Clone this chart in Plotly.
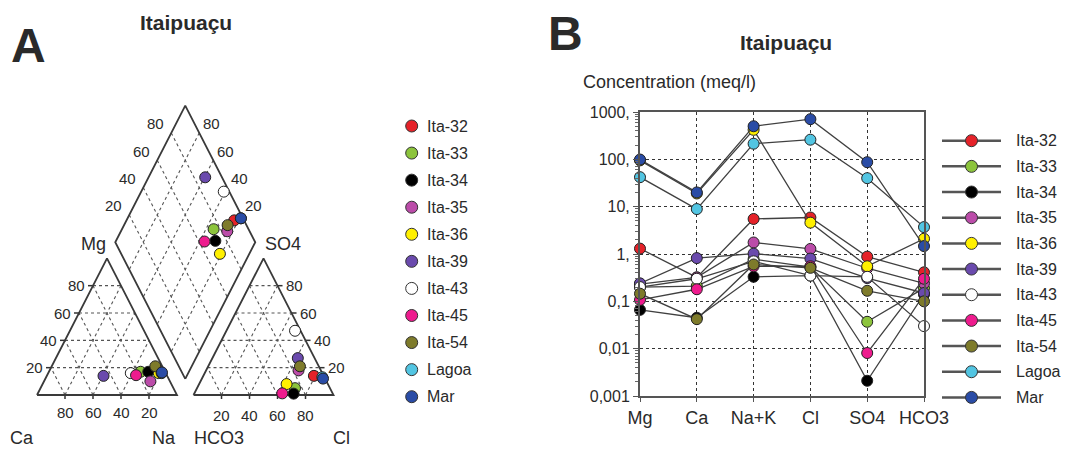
import math
import plotly.graph_objects as go

# ---------------- data ----------------
samples = ["Ita-32", "Ita-33", "Ita-34", "Ita-35", "Ita-36", "Ita-39",
           "Ita-43", "Ita-45", "Ita-54", "Lagoa", "Mar"]
colors = ["#e52229", "#8cc43c", "#000000", "#bb4ca9", "#fff000", "#6a4aad",
          "#ffffff", "#ee1b8e", "#7e7b2b", "#52c5e2", "#2a4ca6"]

# Schoeller diagram (meq/l)
ions = ["Mg", "Ca", "Na+K", "Cl", "SO4", "HCO3"]
mg_meq = [1.3, 0.2, 0.066, 0.23, 95, 0.24, 0.2, 0.107, 0.145, 42, 99]
ca_meq = [0.32, 0.21, 0.045, 0.32, 19, 0.82, 0.3, 0.18, 0.042, 8.9, 20]
nak_meq = [5.5, 0.78, 0.33, 1.75, 420, 1.02, 0.7, 0.55, 0.6, 214, 500]
cl_meq = [5.9, 0.53, 0.35, 1.28, 4.6, 0.80, 0.35, 0.55, 0.51, 260, 705]
so4_meq = [0.88, 0.037, 0.0021, 0.5, 0.55, 0.31, 0.33, 0.0081, 0.167, 40, 87]
hco3_meq = [0.41, 0.19, 0.14, 0.24, 2.1, 0.15, 0.03, 0.30, 0.10, 3.7, 1.47]

y_tickvals = [0.001, 0.01, 0.1, 1, 10, 100, 1000]
y_ticktext = ["0,001", "0,01", "0,1", "1,", "10,", "100,", "1000,"]

# Piper diagram (% of meq)
pip_ca = [5, 17.5, 12, 14, 5, 45.5, 25, 22, 5, 3, 2.5]
pip_mg = [18, 17, 17, 10, 16, 14, 16, 14.5, 21, 16, 16.5]
pip_cl = [79, 70, 71, 66, 62.5, 61, 49, 62.8, 65.5, 85.5, 86.5]
pip_so4 = [14, 5, 1, 18, 8, 27, 47, 1.2, 21, 13, 12]
pip_ticks = [20, 40, 60, 80]

title_txt = "Itaipuaçu"

# ---------------- geometry / styles ----------------
W, HP = 1070, 452
FONT = "Liberation Sans, Arial, sans-serif"
TXT = "#2a2a2a"
H = math.sqrt(3) / 2
G = 0.118
PX0, PY0, SX, SY = 37.0, 395.0, 140.0, 157.8


def cat_xy(ca, mg):
    ca, mg = ca / 100, mg / 100
    na = 1 - ca - mg
    return na + 0.5 * mg, H * mg


def an_xy(cl, so4):
    cl, so4 = cl / 100, so4 / 100
    return 1 + G + cl + 0.5 * so4, H * so4


def dia_xy(na, hc):
    return 1 + G / 2 + 0.5 * (na - hc), G * H + H * (2 - na - hc)


fig = go.Figure()
ann = []


def seglist(segs):
    xs, ys = [], []
    for (a, b) in segs:
        xs += [a[0], b[0], None]
        ys += [a[1], b[1], None]
    return xs, ys


# Piper grid
grid = []
ox = 1 + G
for t in pip_ticks:
    f = t / 100
    grid.append(((0.5 * f, H * f), (1 - 0.5 * f, H * f)))
    grid.append(((1 - f, 0), (0.5 * (1 - f), H * (1 - f))))
    grid.append(((f, 0), (f + 0.5 * (1 - f), H * (1 - f))))
    grid.append(((ox + 0.5 * f, H * f), (ox + 1 - 0.5 * f, H * f)))
    grid.append(((ox + f, 0), (ox + f + 0.5 * (1 - f), H * (1 - f))))
    grid.append(((ox + 1 - f, 0), (ox + 0.5 * (1 - f), H * (1 - f))))
    grid.append((dia_xy(f, 0), dia_xy(f, 1)))
    grid.append((dia_xy(0, f), dia_xy(1, f)))
gx, gy = seglist(grid)
fig.add_trace(go.Scatter(x=gx, y=gy, mode="lines", hoverinfo="skip",
                         line=dict(color="#555", width=1.1, dash="3px,3px"),
                         showlegend=False, xaxis="x", yaxis="y"))

# tick marks
tk = []
dy_t = 4 / SY
dx_t = 5 / SX
for t in pip_ticks:
    f = t / 100
    tk.append(((1 - f, 0), (1 - f, -dy_t)))
    tk.append(((0.5 * f, H * f), (0.5 * f - dx_t, H * f)))
    tk.append(((ox + f, 0), (ox + f, -dy_t)))
    tk.append(((ox + 1 - 0.5 * f, H * f), (ox + 1 - 0.5 * f + dx_t, H * f)))
tx, ty = seglist(tk)
fig.add_trace(go.Scatter(x=tx, y=ty, mode="lines", hoverinfo="skip",
                         line=dict(color="#333", width=1.5),
                         showlegend=False, xaxis="x", yaxis="y"))

# outlines
outl = [[(0, 0), (1, 0), (0.5, H), (0, 0)],
        [(ox, 0), (ox + 1, 0), (ox + 0.5, H), (ox, 0)],
        [dia_xy(1, 1), dia_xy(1, 0), dia_xy(0, 0), dia_xy(0, 1), dia_xy(1, 1)]]
ox_, oy_ = [], []
for poly in outl:
    ox_ += [p[0] for p in poly] + [None]
    oy_ += [p[1] for p in poly] + [None]
fig.add_trace(go.Scatter(x=ox_, y=oy_, mode="lines", hoverinfo="skip",
                         line=dict(color="#3a3a3a", width=1.8),
                         showlegend=False, xaxis="x", yaxis="y"))

# Piper points
for i, s in enumerate(samples):
    cx, cy = cat_xy(pip_ca[i], pip_mg[i])
    ax_, ay_ = an_xy(pip_cl[i], pip_so4[i])
    na = 1 - (pip_ca[i] + pip_mg[i]) / 100
    hc = 1 - (pip_cl[i] + pip_so4[i]) / 100
    dx_, dy_ = dia_xy(na, hc)
    fig.add_trace(go.Scatter(
        x=[cx, ax_, dx_], y=[cy, ay_, dy_], mode="markers", name=s,
        marker=dict(size=11, color=colors[i], line=dict(color="#222", width=1)),
        showlegend=False, cliponaxis=False, xaxis="x", yaxis="y"))


def add_lab(x, y, text, xs=0, ys=0, size=15, xanchor="center", xref="x", yref="y"):
    ann.append(dict(x=x, y=y, xref=xref, yref=yref, text=text, showarrow=False,
                    xanchor=xanchor, yanchor="middle", xshift=xs, yshift=ys,
                    font=dict(family=FONT, size=size, color=TXT)))


for t in pip_ticks:
    f = t / 100
    add_lab(0.5 * f, H * f, str(t), xs=-6, xanchor="right")
    add_lab(1 - f, 0, str(t), ys=-17)
    add_lab(ox + 1 - 0.5 * f, H * f, str(t), xs=6, xanchor="left")
    add_lab(ox + f, 0, str(t), ys=-20)
    x_, y_ = dia_xy(0, 1 - f)
    add_lab(x_, y_, str(t), xs=-16, ys=9)
    x_, y_ = dia_xy(1 - f, 0)
    add_lab(x_, y_, str(t), xs=12, ys=9)

add_lab(0.5, H, "Mg", xs=-14, ys=14, size=18)
add_lab(ox + 0.5, H, "SO4", xs=19, ys=14, size=18)
add_lab(0, 0, "Ca", xs=-15, ys=-43, size=18)
add_lab(1, 0, "Na", xs=-13, ys=-43, size=18)
add_lab(ox, 0, "HCO3", xs=25, ys=-43, size=18)
add_lab(ox + 1, 0, "Cl", xs=8, ys=-43, size=18)

# Schoeller series
for i, s in enumerate(samples):
    vals = [mg_meq[i], ca_meq[i], nak_meq[i], cl_meq[i], so4_meq[i], hco3_meq[i]]
    fig.add_trace(go.Scatter(
        x=ions, y=vals, mode="lines+markers", name=s,
        line=dict(color="#404040", width=1.3),
        marker=dict(size=11, color=colors[i], line=dict(color="#222", width=1)),
        showlegend=False, cliponaxis=False, xaxis="x2", yaxis="y2"))

# Legends (pixel overlay axis)
LA_X, LA_TX, LA_Y0, LA_DY = 411.7, 425, 126.0, 27.07
LB_X0, LB_X1, LB_XM, LB_TX, LB_Y0, LB_DY = 942, 1001, 971.5, 1014, 140.7, 25.67
for i, s in enumerate(samples):
    ya = LA_Y0 + i * LA_DY
    fig.add_trace(go.Scatter(x=[LA_X], y=[ya], mode="markers", showlegend=False,
                             marker=dict(size=12, color=colors[i], line=dict(color="#333", width=1)),
                             xaxis="x3", yaxis="y3", hoverinfo="skip"))
    add_lab(LA_TX, ya, s, xanchor="left", size=16, xref="x3", yref="y3")
    yb = LB_Y0 + i * LB_DY
    fig.add_trace(go.Scatter(x=[LB_X0, LB_X1], y=[yb, yb], mode="lines", showlegend=False,
                             line=dict(color="#555", width=2.5),
                             xaxis="x3", yaxis="y3", hoverinfo="skip"))
    fig.add_trace(go.Scatter(x=[LB_XM], y=[yb], mode="markers", showlegend=False,
                             marker=dict(size=12, color=colors[i], line=dict(color="#333", width=1)),
                             xaxis="x3", yaxis="y3", hoverinfo="skip"))
    add_lab(LB_TX, yb, s, xanchor="left", size=16, xref="x3", yref="y3")

add_lab(28, 45, "<b>A</b>", size=48, xref="x3", yref="y3")
add_lab(186, 22, "<b>" + title_txt + "</b>", size=21, xref="x3", yref="y3")
add_lab(565, 33, "<b>B</b>", size=48, xref="x3", yref="y3")
add_lab(786, 42, "<b>" + title_txt + "</b>", size=21, xref="x3", yref="y3")
add_lab(581, 82, "Concentration (meq/l)", size=18, xanchor="left", xref="x3", yref="y3")

minor_vals = [k * 10 ** e for e in range(-3, 3) for k in range(2, 10)]

fig.update_layout(
    width=W, height=HP, margin=dict(l=0, r=0, t=0, b=0, autoexpand=False),
    paper_bgcolor="white", plot_bgcolor="rgba(0,0,0,0)",
    showlegend=False, annotations=ann,
    font=dict(family=FONT, color=TXT),
    xaxis=dict(domain=[0, 1], range=[-PX0 / SX, (W - PX0) / SX], visible=False,
               fixedrange=True, automargin=False),
    yaxis=dict(domain=[0, 1], range=[(PY0 - HP) / SY, PY0 / SY], visible=False,
               fixedrange=True, automargin=False),
    xaxis2=dict(domain=[640 / W, 924 / W], anchor="y2", type="category",
                categoryorder="array", categoryarray=ions, range=[0, 5], automargin=False,
                showline=True, mirror=True, linecolor="#555", linewidth=2,
                showgrid=True, gridcolor="#333", gridwidth=1.2, griddash="3px,3px",
                ticks="outside", ticklen=4, tickcolor="#555",
                tickfont=dict(family=FONT, size=18, color=TXT), zeroline=False),
    yaxis2=dict(domain=[(HP - 396) / HP, (HP - 112) / HP], anchor="x2", type="log",
                range=[-3, 3], tickvals=y_tickvals, ticktext=y_ticktext, automargin=False,
                showline=True, mirror=True, linecolor="#555", linewidth=2,
                showgrid=True, gridcolor="#333", gridwidth=1.2, griddash="3px,3px",
                ticks="outside", ticklen=5, tickcolor="#555",
                minor=dict(tickvals=minor_vals, ticks="outside", ticklen=3,
                           tickcolor="#666", showgrid=False),
                tickfont=dict(family=FONT, size=16, color=TXT), zeroline=False),
    xaxis3=dict(domain=[0, 1], range=[0, W], visible=False, anchor="y3",
                fixedrange=True, automargin=False),
    yaxis3=dict(domain=[0, 1], range=[HP, 0], visible=False, anchor="x3",
                fixedrange=True, automargin=False),
)

fig.write_html(
    "out.html",
    config={"displayModeBar": False},
    post_script="document.body.style.margin='0';document.body.style.padding='0';"
                "document.documentElement.style.overflow='hidden';",
)
